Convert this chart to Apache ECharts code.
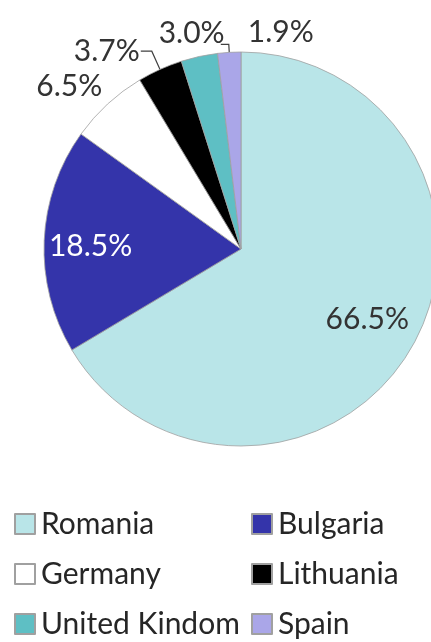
<!DOCTYPE html>
<html><head><meta charset="utf-8">
<script src="https://cdn.jsdelivr.net/npm/echarts@6/dist/echarts.min.js"></script>
<style>html,body{margin:0;padding:0;background:#fff}#c{width:431px;height:642px}</style>
</head><body><div id="c"></div>
<script>
const countries = ['Romania','Bulgaria','Germany','Lithuania','United Kindom','Spain'];
const shares = [66.5, 18.5, 6.5, 3.7, 3.0, 1.9];
const colors = ['#b9e5e8','#3434aa','#ffffff','#000000','#5ebfc4','#aaa6e8'];
const leftCol = ['Romania','Germany','United Kindom'];
const rightCol = ['Bulgaria','Lithuania','Spain'];

const FONT = 'Lato';
const chart = echarts.init(document.getElementById('c'));
const labelCfg = [
  {position:'inside', color:'#333333'},
  {position:'inside', color:'#ffffff'},
  {position:'outside'},
  {position:'outside', padding:[0,0,30,0], distanceToLabelLine:1},
  {position:'outside'},
  {position:'outside'}
];
const lineShow = [false,false,false,true,false,true];
const lineLen = [8,8,8,20,8,8];
const lineLen2 = [8,8,8,11,8,8];
// label nudges (styling only)
const nudgeX = [38, -49, 13, 0, 40, 98];
const nudgeY = [20, 2, -12, 0, -15, -12];
const data = countries.map((n,i)=>({
  name:n, value:shares[i],
  itemStyle:{color:colors[i]},
  label:labelCfg[i],
  labelLine:{show:lineShow[i], length:lineLen[i], length2:lineLen2[i], lineStyle:{color:'#404040', width:1.2}}
}));
const legendBase = {
  orient:'vertical', itemWidth:20, itemHeight:20, itemGap:20, icon:'rect', height:200,
  textStyle:{fontFamily:FONT, fontSize:30, lineHeight:20, color:'#262626', padding:[0,0,0,1]},
  selectedMode:false
};
chart.setOption({
  animation:false,
  legend:[
    Object.assign({}, legendBase, {data:leftCol, left:14, top:509, padding:0}),
    Object.assign({}, legendBase, {data:rightCol, left:251, top:509, padding:0})
  ],
  series:[{
    type:'pie', center:[241,249], radius:197, startAngle:90, clockwise:true,
    avoidLabelOverlap:false,
    itemStyle:{borderColor:'#a0a0a0', borderWidth:0.8},
    label:{formatter:p=>p.value.toFixed(1)+'%', fontFamily:FONT, fontSize:30, color:'#333333'},
    labelLayout:function(p){ return {hideOverlap:false, dx:nudgeX[p.dataIndex], dy:nudgeY[p.dataIndex]}; },
    data:data
  }]
});
</script></body></html>
